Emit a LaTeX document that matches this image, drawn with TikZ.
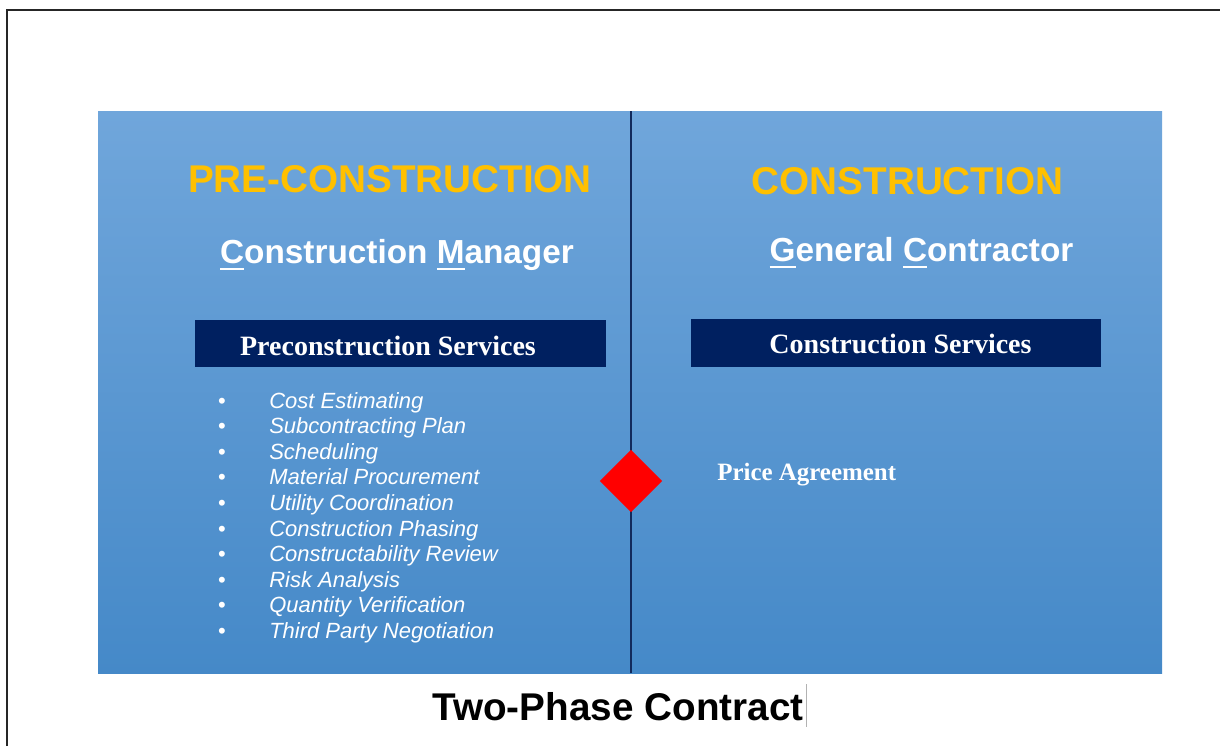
\documentclass[tikz,border=0pt]{standalone}
\usepackage{fontspec}
\setmainfont{Liberation Sans}
\newfontfamily\timesfont{Liberation Serif}
\usetikzlibrary{shapes.geometric, positioning}
\definecolor{panelTop}{RGB}{112,166,219}
\definecolor{panelBot}{RGB}{69,137,200}
\definecolor{phaseGold}{RGB}{255,192,0}
\definecolor{svcNavy}{RGB}{0,32,96}
\definecolor{divNavy}{RGB}{18,42,92}
\newcommand{\ulchar}[1]{\setbox0\hbox{#1}\rlap{\rule[-5pt]{\wd0}{1.6pt}}\box0}

\begin{document}
\begin{tikzpicture}[x=0.75pt, y=-0.75pt,
  phase/.style={text=phaseGold, font=\fontsize{29}{34}\selectfont\bfseries, anchor=base, inner sep=0pt},
  role/.style={text=white, font=\fontsize{25}{30}\selectfont\bfseries, anchor=base, inner sep=0pt},
  svcbox/.style={fill=svcNavy, minimum width=308pt, minimum height=35.5pt, inner sep=0pt},
  svctext/.style={text=white, font=\timesfont\fontsize{21}{24}\selectfont\bfseries, anchor=base, inner sep=0pt},
  item/.style={text=white, font=\fontsize{16.5}{20}\selectfont\itshape, anchor=base west, inner sep=0pt},
  dot/.style={text=white, font=\fontsize{16.5}{20}\selectfont, anchor=base, inner sep=0pt},
  gate/.style={diamond, fill=red, minimum width=47pt, minimum height=47pt, inner sep=0pt}
]
  \useasboundingbox (0,0) rectangle (1220,746);

  % page frame (cut at right and bottom)
  \draw[line width=1.6pt, black!85] (7,746) -- (7,10) -- (1220,10);

  % blue panel
  \shade[top color=panelTop, bottom color=panelBot] (98,111) rectangle (1162,673);
  \coordinate (divTop) at (631,111);
  \coordinate (divBot) at (631,673);
  \draw[divNavy, line width=1.8pt] (divTop) -- (divBot);
  \node[gate] (price) at (631,481) {};

  % left phase
  \node[phase] (pre) at (390,192) {PRE-CONSTRUCTION};
  \node[role] (cm) at (397,263) {\ulchar{C}onstruction \ulchar{M}anager};
  \node[svcbox] (preBox) at (400.5,343.5) {};
  \node[svctext] (preSvc) at (388,355) {Preconstruction Services};
  \foreach \txt [count=\i from 0] in {Cost Estimating, Subcontracting Plan,
      Scheduling, Material Procurement, Utility Coordination,
      Construction Phasing, Constructability Review, Risk Analysis,
      Quantity Verification, Third Party Negotiation}{
    \node[dot] (b\i) at (222,{408+25.6*\i}) {•};
    \node[item] (it\i) at (269,{408+25.6*\i}) {\txt};
  }

  % right phase
  \node[phase] (con) at (907.5,194) {CONSTRUCTION};
  \node[role] (gc) at (921.5,261) {\ulchar{G}eneral \ulchar{C}ontractor};
  \node[svcbox] (conBox) at (896,343) {};
  \node[svctext] (conSvc) at (900.5,353) {Construction Services};
  \node[svctext, anchor=base west, font=\timesfont\fontsize{18.7}{22}\selectfont\bfseries] (agree) at (717,480) {Price Agreement};

  % caption
  \node[font=\fontsize{29}{34}\selectfont\bfseries, anchor=base, inner sep=0pt] (title) at (618,720) {Two-Phase Contract};
  \coordinate (curTop) at (806,684);
  \coordinate (curBot) at (806,727);
  \draw[black!30, line width=0.6pt] (curTop) -- (curBot);
\end{tikzpicture}
\end{document}
